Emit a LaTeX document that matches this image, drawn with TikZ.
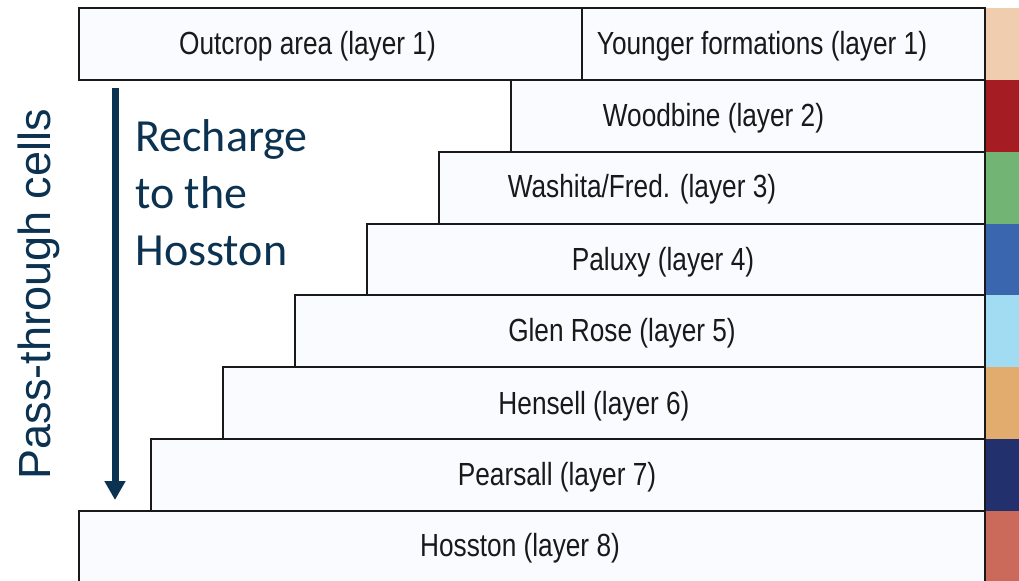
\documentclass[tikz,border=0pt]{standalone}
\usepackage{fontspec}
\setmainfont{Liberation Sans}
\newfontfamily\layerfont[FakeStretch=0.82]{Liberation Sans}
\newfontfamily\rechargefont{Carlito}
\usetikzlibrary{positioning, arrows.meta, fit}

\definecolor{navytext}{RGB}{11,50,80}
\definecolor{boxfill}{RGB}{250,251,254}
\definecolor{lyrone}{RGB}{239,205,174}
\definecolor{lyrtwo}{RGB}{166,28,35}
\definecolor{lyrthree}{RGB}{114,180,116}
\definecolor{lyrfour}{RGB}{58,102,176}
\definecolor{lyrfive}{RGB}{162,220,242}
\definecolor{lyrsix}{RGB}{226,172,110}
\definecolor{lyrseven}{RGB}{34,48,110}
\definecolor{lyreight}{RGB}{203,106,90}

\begin{document}
\begin{tikzpicture}[
    x=0.5pt, y=-0.5pt,
    layerbox/.style={draw=black!90, line width=1pt, fill=boxfill, inner sep=0pt},
    layertext/.style={font=\layerfont\fontsize{16}{19}\selectfont, text=black!90, inner sep=0pt},
    arrow/.style={-{Triangle[length=9.5pt, width=10pt]}, line width=3.5pt, navytext}
]
    \useasboundingbox (0,0) rectangle (1019,580);
    \fill[white] (0,0) rectangle (1019,580);

    % Layer boxes (stair steps)
    \node[layerbox, fit={(79,8) (582,80)}] (outcrop) {};
    \node[layerbox, fit={(582,8) (985,80)}] (younger) {};
    \node[layerbox, fit={(511,80) (985,152)}] (woodbine) {};
    \node[layerbox, fit={(439,152) (985,223.5)}] (washita) {};
    \node[layerbox, fit={(367,223.5) (985,295)}] (paluxy) {};
    \node[layerbox, fit={(295,295) (985,367)}] (glenrose) {};
    \node[layerbox, fit={(223,367) (985,439)}] (hensell) {};
    \node[layerbox, fit={(151,439) (985,511)}] (pearsall) {};
    \node[layerbox, fit={(79,511) (985,586)}] (hosston) {};

    % Layer names
    \node[layertext] (outcroplbl) at (307.5,46) {Outcrop area (layer 1)};
    \node[layertext] (youngerlbl) at (762,46) {Younger formations (layer 1)};
    \node[layertext] (woodbinelbl) at (713.5,118) {Woodbine (layer 2)};
    \node[layertext] (washitalbl) at (642,189) {Washita/Fred. (layer 3)};
    \node[layertext] (paluxylbl) at (663,262) {Paluxy (layer 4)};
    \node[layertext] (glenroselbl) at (622,333) {Glen Rose (layer 5)};
    \node[layertext] (henselllbl) at (594,406) {Hensell (layer 6)};
    \node[layertext] (pearsalllbl) at (557,477) {Pearsall (layer 7)};
    \node[layertext] (hosstonlbl) at (520,548) {Hosston (layer 8)};

    % Colour key strip
    \fill[lyrone] (986,8) rectangle (1019,80);
    \fill[lyrtwo] (986,80) rectangle (1019,152);
    \fill[lyrthree] (986,152) rectangle (1019,223.5);
    \fill[lyrfour] (986,223.5) rectangle (1019,295);
    \fill[lyrfive] (986,295) rectangle (1019,367);
    \fill[lyrsix] (986,367) rectangle (1019,439);
    \fill[lyrseven] (986,439) rectangle (1019,511);
    \fill[lyreight] (986,511) rectangle (1019,586);

    % Recharge arrow and labels
    \coordinate (rechargetop) at (115,88);
    \coordinate (rechargeend) at (115,500);
    \draw[arrow] (rechargetop) -- (rechargeend);

    \node[font=\rechargefont\fontsize{23}{28.3}\selectfont, text=navytext, align=left,
          anchor=base west, inner sep=0pt] (recharge) at (135,265) {Recharge\\to the\\Hosston};
    \node[font=\fontsize{22.5}{27}\selectfont, text=navytext, rotate=90,
          anchor=base, inner sep=0pt] (passthrough) at (50,294) {Pass-through cells};

\end{tikzpicture}
\end{document}
